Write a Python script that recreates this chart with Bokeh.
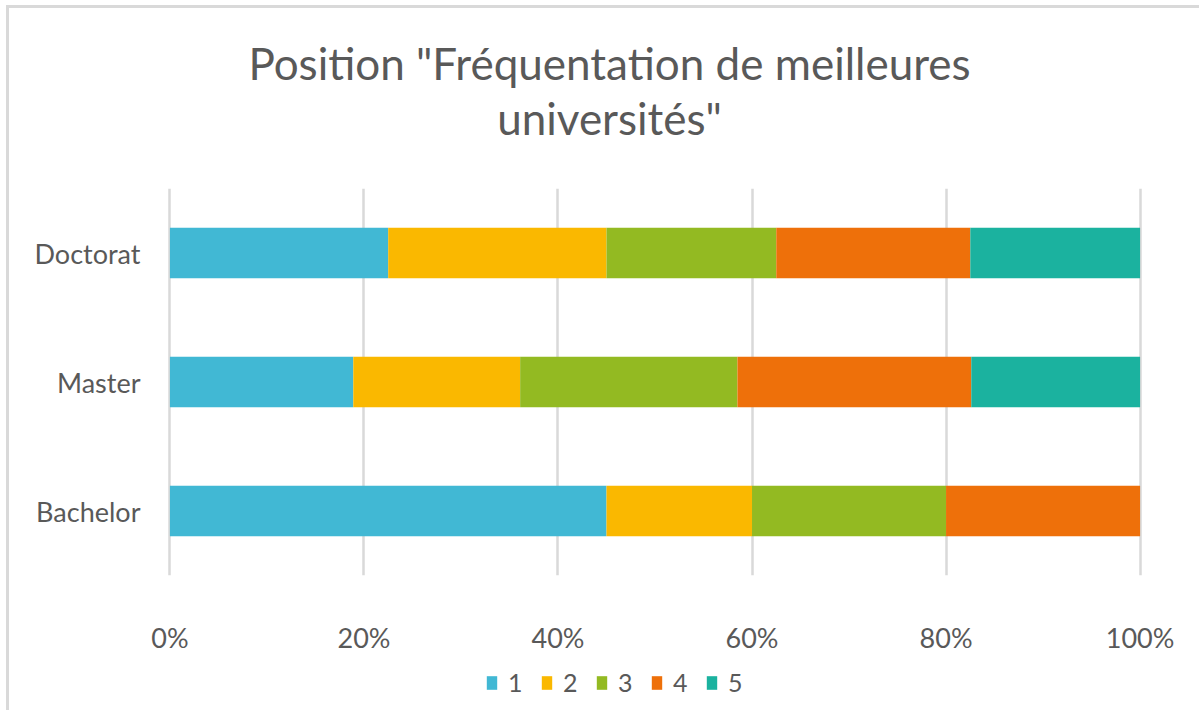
from bokeh.plotting import figure
from bokeh.layouts import column
from bokeh.models import Range1d, FactorRange, Legend, LegendItem, FixedTicker
from bokeh.core.properties import value
from bokeh.embed import file_html
from bokeh.resources import INLINE

categories = ["Bachelor", "Master", "Doctorat"]
series = ["1", "2", "3", "4", "5"]
s1 = [45.0, 18.9, 22.5]
s2 = [15.0, 17.2, 22.5]
s3 = [20.0, 22.4, 17.5]
s4 = [20.0, 24.1, 20.0]
s5 = [0.0, 17.4, 17.5]
colors = ["#41B8D4", "#FAB800", "#93BA22", "#EE700A", "#1BB29F"]
title_lines = ['Position "Fréquentation de meilleures', 'universités"']
x_ticks = [0, 20, 40, 60, 80, 100]

FONT = "Lato"
GREY = "#595959"
W = 1190
H_TITLE, H_MAIN, H_LEG = 180, 472, 50
BL, BR = 158, 57  # side borders of the main chart (frames of all strips are aligned)

data = dict(cat=categories, **{k: v for k, v in zip(series, [s1, s2, s3, s4, s5])})

# --- title strip (x range in page pixels of the aligned frame) ---
pt = figure(width=W, height=H_TITLE, output_backend="svg", toolbar_location=None,
            x_range=Range1d(167, 1142), y_range=Range1d(0, H_TITLE),
            x_axis_location=None, y_axis_location=None, min_border=0)
pt.outline_line_color = None
pt.grid.grid_line_color = None
pt.text(x=[609, 609], y=[126, 71], text=title_lines, text_font=value(FONT),
        text_font_size="44px", text_color=GREY, text_align="center", text_baseline="middle")

# --- main chart ---
p = figure(width=W, height=H_MAIN, output_backend="svg", toolbar_location=None,
           x_range=Range1d(-0.25, 100.25), y_range=FactorRange(*categories, range_padding=0),
           min_border_left=BL, min_border_right=BR, min_border_top=0, min_border_bottom=85)
p.outline_line_color = None

p.hbar_stack(series, y="cat", height=0.39, fill_color=colors, line_color=None, source=data)

p.xgrid.ticker = FixedTicker(ticks=x_ticks)
p.xgrid.grid_line_color = "#d9d9d9"
p.xgrid.grid_line_width = 2.5
p.ygrid.grid_line_color = None

p.xaxis.ticker = FixedTicker(ticks=x_ticks)
p.xaxis.major_label_overrides = {t: f"{t}%" for t in x_ticks}
p.xaxis.axis_line_color = None
p.xaxis.major_tick_line_color = None
p.xaxis.minor_tick_line_color = None
p.xaxis.major_label_text_font = FONT
p.xaxis.major_label_text_font_size = "27px"
p.xaxis.major_label_text_color = GREY
p.xaxis.major_label_standoff = 39

p.yaxis.axis_line_color = None
p.yaxis.major_tick_line_color = None
p.yaxis.minor_tick_line_color = None
p.yaxis.major_label_text_font = FONT
p.yaxis.major_label_text_font_size = "27px"
p.yaxis.major_label_text_color = GREY
p.yaxis.major_label_standoff = 21

# --- legend strip (its zero-height bars draw nothing; only the legend shows) ---
pl = figure(width=W, height=H_LEG, output_backend="svg", toolbar_location=None,
            x_range=Range1d(150, 250), y_range=FactorRange(*categories),
            x_axis_location=None, y_axis_location=None, min_border=0)
pl.outline_line_color = None
pl.grid.grid_line_color = None
rl = pl.hbar_stack(series, y="cat", height=0.0, fill_color=colors, line_color=None, source=data)
legend = Legend(items=[LegendItem(label=s, renderers=[r]) for s, r in zip(series, rl)],
                orientation="horizontal", location=(318, 13),
                glyph_width=13, glyph_height=17, label_text_font=FONT,
                label_text_font_size="25px", label_text_color=GREY,
                spacing=12, label_standoff=10, border_line_color=None,
                background_fill_alpha=0, padding=0, margin=0)
pl.add_layout(legend, "center")

layout = column(pt, p, pl, spacing=0,
                styles={"margin-left": "6px", "margin-top": "5px",
                        "border-left": "3px solid #d9d9d9", "border-top": "3px solid #d9d9d9"})

open("out.html", "w").write(file_html(layout, INLINE))
